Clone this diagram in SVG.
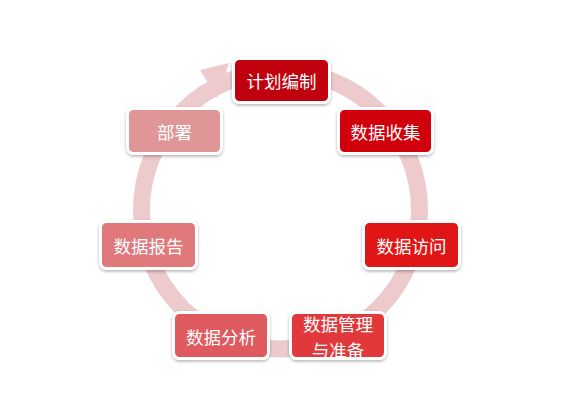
<svg xmlns="http://www.w3.org/2000/svg" width="587" height="400" viewBox="0 0 587 400">
<defs>
<filter id="sh" x="-20%" y="-20%" width="140%" height="150%">
<feDropShadow dx="0" dy="1.5" stdDeviation="1.5" flood-color="#000" flood-opacity="0.3"/>
</filter>
<style>
.box{stroke:#fff;stroke-width:3;filter:url(#sh)}
.t{fill:#fff;font-family:"Microsoft YaHei","Noto Sans CJK SC",sans-serif;font-size:17.5px;text-anchor:middle;dominant-baseline:central}
</style>
</defs>
<rect width="587" height="400" fill="#fff"/>
<g id="connectors">
<circle cx="280.5" cy="210" r="139" fill="none" stroke="#edcacc" stroke-width="17"/>
<polygon points="200,70 229,63 217,98" fill="#edcacc"/>
</g>
<g id="n1"><rect class="box" x="233.5" y="58.5" width="96" height="44" rx="6" fill="#c0000c"/><text class="t" x="281.5" y="80">计划编制</text></g>
<g id="n2"><rect class="box" x="338.5" y="108.5" width="94" height="45" rx="6" fill="#d0040e"/><text class="t" x="385.5" y="131">数据收集</text></g>
<g id="n3"><rect class="box" x="363.5" y="221.5" width="96" height="47" rx="6" fill="#e01618"/><text class="t" x="411.5" y="245">数据访问</text></g>
<g id="n4"><rect class="box" x="290.5" y="312.5" width="95" height="46" rx="6" fill="#e1383b"/><text class="t" x="338" y="323">数据管理</text><text class="t" x="338" y="349">与准备</text></g>
<g id="n5"><rect class="box" x="173.5" y="312.5" width="95" height="46" rx="6" fill="#de5a5e"/><text class="t" x="221" y="336">数据分析</text></g>
<g id="n6"><rect class="box" x="100.5" y="221.5" width="96" height="47" rx="6" fill="#e0797c"/><text class="t" x="148.5" y="245">数据报告</text></g>
<g id="n7"><rect class="box" x="127.5" y="108.5" width="94" height="45" rx="6" fill="#e09597"/><text class="t" x="174.5" y="131">部署</text></g>
</svg>
